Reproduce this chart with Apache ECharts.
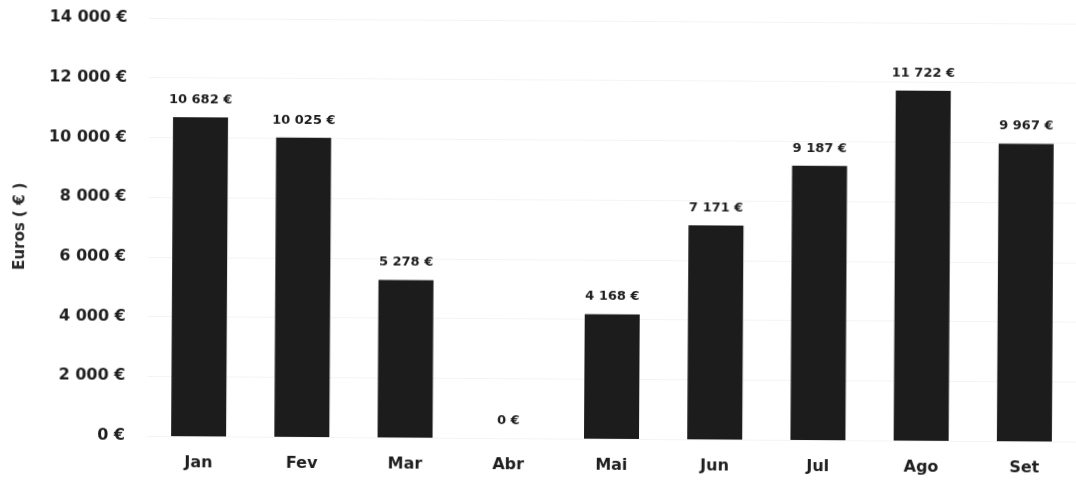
<!DOCTYPE html>
<html>
<head>
<meta charset="utf-8">
<style>
  html, body { margin: 0; padding: 0; background: #fff; overflow: hidden; }
  #chart { width: 1076px; height: 481px; transform: rotate(0.35deg); transform-origin: 150px 436px; }
</style>
<script src="https://cdn.jsdelivr.net/npm/echarts@6/dist/echarts.min.js"></script>
</head>
<body>
<div id="chart"></div>
<script>
// Monthly totals in euros
const months = ['Jan', 'Fev', 'Mar', 'Abr', 'Mai', 'Jun', 'Jul', 'Ago', 'Set'];
const values = [10682, 10025, 5278, 0, 4168, 7171, 9187, 11722, 9967];
const yMax = 14000;
const yStep = 2000;

// "10 682 €" style: space as thousands separator
function euro(v) {
  return String(Math.round(v)).replace(/\B(?=(\d{3})+(?!\d))/g, ' ') + ' €';
}

const font = '"DejaVu Sans", sans-serif';
const ink = '#1e1e1e';
const chart = echarts.init(document.getElementById('chart'));
chart.setOption({
  animation: false,
  grid: { left: 147, right: -16, top: 18, bottom: 45 },
  xAxis: {
    type: 'category',
    data: months,
    axisLine: { show: false },
    axisTick: { show: false },
    axisLabel: { color: ink, fontFamily: font, fontWeight: 'bold', fontSize: 16, margin: 19 }
  },
  yAxis: {
    type: 'value',
    min: 0,
    max: yMax,
    interval: yStep,
    name: 'Euros ( € )',
    nameLocation: 'middle',
    nameGap: 120,
    nameRotate: 90,
    nameTextStyle: { color: '#2a2a2a', fontFamily: font, fontWeight: 'bold', fontSize: 15 },
    axisLine: { show: false },
    axisTick: { show: false },
    splitLine: { lineStyle: { color: '#f4f4f4', width: 1 } },
    axisLabel: {
      formatter: euro,
      color: ink,
      fontFamily: font,
      fontWeight: 'bold',
      fontSize: 16,
      margin: 22
    }
  },
  series: [{
    type: 'bar',
    data: values,
    barWidth: 55,
    itemStyle: { color: '#1c1c1c' },
    label: {
      show: true,
      position: 'top',
      distance: 11,
      formatter: p => euro(p.value),
      color: ink,
      fontFamily: font,
      fontWeight: 'bold',
      fontSize: 13
    }
  }]
});
</script>
</body>
</html>
